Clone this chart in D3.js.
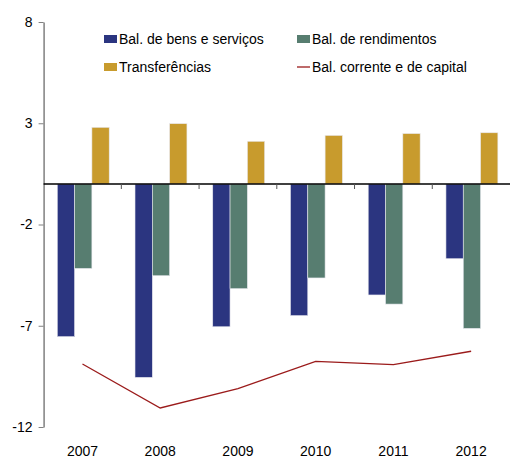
<!DOCTYPE html>
<html>
<head>
<meta charset="utf-8">
<script src="https://cdn.jsdelivr.net/npm/d3@7"></script>
<style>
  html, body { margin: 0; padding: 0; background: #fff; }
  svg { display: block; font-family: "Liberation Sans", Arial, sans-serif; }
</style>
</head>
<body>
<svg id="chart" width="510" height="459"></svg>
<script>
// Balança corrente e de capital (% do PIB)
const years = ["2007", "2008", "2009", "2010", "2011", "2012"];
const bensServicos = [-7.54, -9.55, -7.05, -6.50, -5.48, -3.69];
const rendimentos = [-4.17, -4.53, -5.17, -4.64, -5.93, -7.13];
const transferencias = [2.80, 2.98, 2.11, 2.40, 2.49, 2.53];
const correnteCapital = [-8.89, -11.06, -10.11, -8.76, -8.92, -8.26];
const yTicks = [8, 3, -2, -7, -12];

const barSeries = [
  { name: "Bal. de bens e serviços", values: bensServicos, color: "#2B3580" },
  { name: "Bal. de rendimentos", values: rendimentos, color: "#577D70" },
  { name: "Transferências", values: transferencias, color: "#C89B2D" }
];

const svg = d3.select("#chart");
const plotLeft = 43.6, plotRight = 510, plotTop = 22, plotBottom = 427;

const x = d3.scaleBand().domain(years).range([plotLeft, plotRight]).paddingInner(0).paddingOuter(0);
const y = d3.scaleLinear().domain([-12, 8]).range([plotBottom, plotTop]);
const inner = d3.scaleBand().domain(d3.range(barSeries.length))
  .range([0, x.bandwidth()]).paddingInner(0).paddingOuter(0.745).align(0.53);

// Bars
barSeries.forEach((s, i) => {
  svg.append("g").selectAll("rect")
    .data(s.values)
    .join("rect")
    .attr("x", (d, j) => x(years[j]) + inner(i))
    .attr("width", inner.bandwidth())
    .attr("y", d => y(Math.max(0, d)))
    .attr("height", d => Math.abs(y(d) - y(0)))
    .attr("fill", s.color)
    .attr("stroke", "#e8e8ee")
    .attr("stroke-width", 0.6);
});

// Line: Bal. corrente e de capital
const line = d3.line()
  .x((d, j) => x(years[j]) + x.bandwidth() / 2)
  .y(d => y(d));
svg.append("path")
  .datum(correnteCapital)
  .attr("d", line)
  .attr("fill", "none")
  .attr("stroke", "#9B1B1B")
  .attr("stroke-width", 1.3);

// Y axis
const yAxis = svg.append("g")
  .attr("transform", `translate(${plotLeft},0)`)
  .call(d3.axisLeft(y).tickValues(yTicks).tickFormat(d => String(d))
    .tickSize(5).tickPadding(6).tickSizeOuter(0));
yAxis.select(".domain").attr("stroke", "#808080").attr("stroke-width", 1.5);
yAxis.selectAll(".tick line").attr("stroke", "#808080");
yAxis.selectAll(".tick text").attr("font-size", 14).attr("fill", "#000")
  .attr("font-family", "Liberation Sans, Arial, sans-serif");

// X axis at zero with ticks between categories
const xAxisG = svg.append("g").attr("transform", `translate(0,${y(0)})`);
xAxisG.append("line")
  .attr("x1", plotLeft).attr("x2", plotRight)
  .attr("stroke", "#000").attr("stroke-width", 1.5);
xAxisG.selectAll("line.sep")
  .data(years.slice(1))
  .join("line")
  .attr("class", "sep")
  .attr("x1", d => x(d)).attr("x2", d => x(d))
  .attr("y1", 0).attr("y2", 5)
  .attr("stroke", "#555").attr("stroke-width", 1);

// Category labels at the bottom
svg.append("g").selectAll("text")
  .data(years)
  .join("text")
  .attr("x", d => x(d) + x.bandwidth() / 2)
  .attr("y", 456)
  .attr("text-anchor", "middle")
  .attr("font-size", 14)
  .attr("fill", "#000")
  .text(d => d);

// Legend
const legendItems = [
  { name: barSeries[0].name, color: barSeries[0].color, type: "rect", lx: 104, ly: 39 },
  { name: barSeries[1].name, color: barSeries[1].color, type: "rect", lx: 297, ly: 39 },
  { name: barSeries[2].name, color: barSeries[2].color, type: "rect", lx: 104, ly: 67 },
  { name: "Bal. corrente e de capital", color: "#9B1B1B", type: "line", lx: 297, ly: 67 }
];
const lg = svg.append("g");
legendItems.forEach(it => {
  if (it.type === "rect") {
    lg.append("rect").attr("x", it.lx).attr("y", it.ly - 4).attr("width", 13).attr("height", 8)
      .attr("fill", it.color);
  } else {
    lg.append("line").attr("x1", it.lx).attr("x2", it.lx + 13)
      .attr("y1", it.ly).attr("y2", it.ly)
      .attr("stroke", it.color).attr("stroke-width", 1.3);
  }
  lg.append("text").attr("x", it.lx + 15).attr("y", it.ly + 5)
    .attr("font-size", 14).attr("fill", "#000").text(it.name);
});
</script>
</body>
</html>
